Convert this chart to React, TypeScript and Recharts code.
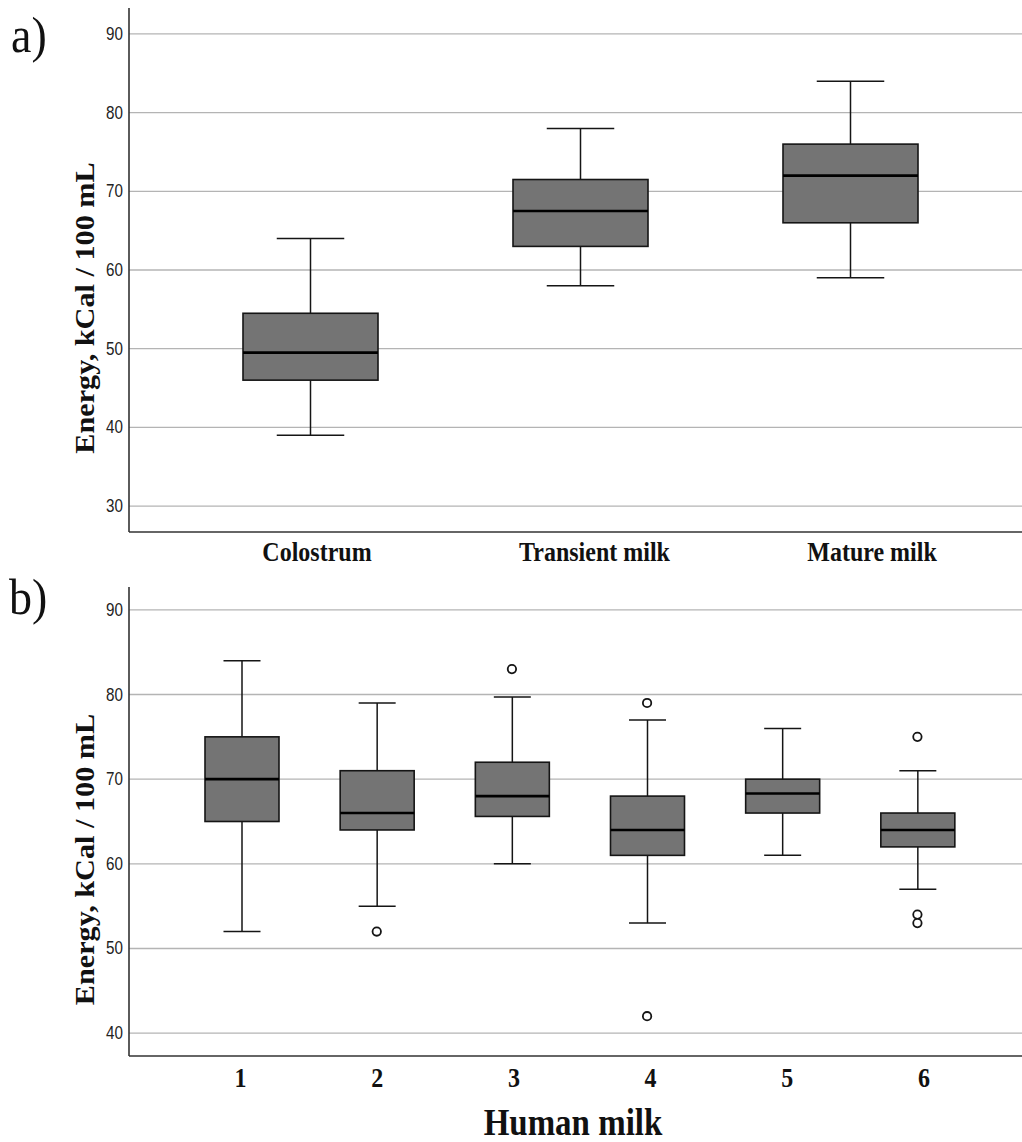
import React from "react";
import {
  Bar,
  CartesianGrid,
  ComposedChart,
  Scatter,
  XAxis,
  YAxis,
} from "recharts";

// panel a) lactation stage
const stageNames = ["Colostrum", "Transient milk", "Mature milk"];
const stageLow = [39, 58, 59];
const stageQ1 = [46, 63, 66];
const stageMedian = [49.5, 67.5, 72];
const stageQ3 = [54.5, 71.5, 76];
const stageHigh = [64, 78, 84];
const stageTicks = [30, 40, 50, 60, 70, 80, 90];

// panel b) individual donors
const donorNames = ["1", "2", "3", "4", "5", "6"];
const donorLow = [52, 55, 60, 53, 61, 57];
const donorQ1 = [65, 64, 65.6, 61, 66, 62];
const donorMedian = [70, 66, 68, 64, 68.3, 64];
const donorQ3 = [75, 71, 72, 68, 70, 66];
const donorHigh = [84, 79, 79.7, 77, 76, 71];
const donorOutliers = [[], [52], [83], [79, 42], [], [75, 54, 53]];
const donorTicks = [40, 50, 60, 70, 80, 90];

const yTitle = "Energy, kCal / 100 mL";
const xTitle = "Human milk";

type BoxRow = {
  name: string;
  low: number;
  q1: number;
  median: number;
  q3: number;
  high: number;
  out1?: number;
  out2?: number;
  out3?: number;
};

function buildRows(
  names: string[],
  low: number[],
  q1: number[],
  median: number[],
  q3: number[],
  high: number[],
  outliers?: number[][],
): BoxRow[] {
  return names.map((name, i) => {
    const row: BoxRow = {
      name,
      low: low[i],
      q1: q1[i],
      median: median[i],
      q3: q3[i],
      high: high[i],
    };
    const outs = outliers ? outliers[i] : [];
    if (outs[0] !== undefined) row.out1 = outs[0];
    if (outs[1] !== undefined) row.out2 = outs[1];
    if (outs[2] !== undefined) row.out3 = outs[2];
    return row;
  });
}

const stageRows = buildRows(stageNames, stageLow, stageQ1, stageMedian, stageQ3, stageHigh);
const donorRows = buildRows(
  donorNames,
  donorLow,
  donorQ1,
  donorMedian,
  donorQ3,
  donorHigh,
  donorOutliers,
);

const serif = "'Liberation Serif', 'Times New Roman', serif";
const sans = "'Liberation Sans', Arial, sans-serif";
const boxFill = "#747474";
const ink = "#151515";

// the bar spans low..high; inner values are placed on the same linear scale
function BoxShape(props: any) {
  const { x, y, width, height, payload } = props;
  if (!payload || !Number.isFinite(y)) return <g />;
  const top = Math.min(y, y + height);
  const bottom = Math.max(y, y + height);
  const span = payload.high - payload.low;
  const px = (v: number) => top + ((payload.high - v) / span) * (bottom - top);
  const cx = x + width / 2;
  const capHalf = width / 4;
  const yQ1 = px(payload.q1);
  const yQ3 = px(payload.q3);
  const yMed = px(payload.median);
  return (
    <g>
      <line x1={cx} x2={cx} y1={top} y2={yQ3} stroke={ink} strokeWidth={1.5} />
      <line x1={cx} x2={cx} y1={yQ1} y2={bottom} stroke={ink} strokeWidth={1.5} />
      <line x1={cx - capHalf} x2={cx + capHalf} y1={top} y2={top} stroke={ink} strokeWidth={1.5} />
      <line
        x1={cx - capHalf}
        x2={cx + capHalf}
        y1={bottom}
        y2={bottom}
        stroke={ink}
        strokeWidth={1.5}
      />
      <rect
        x={x}
        y={yQ3}
        width={width}
        height={yQ1 - yQ3}
        fill={boxFill}
        stroke={ink}
        strokeWidth={1.6}
      />
      <line x1={x} x2={x + width} y1={yMed} y2={yMed} stroke="#000" strokeWidth={2.6} />
    </g>
  );
}

function OutlierDot(props: any) {
  const { cx, cy } = props;
  if (!Number.isFinite(cx) || !Number.isFinite(cy)) return <g />;
  return <circle cx={cx} cy={cy} r={4.2} fill="#fff" stroke={ink} strokeWidth={1.8} />;
}

function YTick(props: any) {
  const { y, payload } = props;
  return (
    <text
      transform={`translate(123, ${y + 6}) scale(0.95, 1.2)`}
      textAnchor="end"
      fontFamily={sans}
      fontSize={16}
      fill="#222"
    >
      {payload.value}
    </text>
  );
}

// labels in the original sit a little to the right of the boxes, drifting per category
function makeXTick(offset: number, shift: number, drift: number) {
  return function XTick(props: any) {
    const { x, payload } = props;
    const dx = shift + drift * (payload.index ?? 0);
    return (
      <text
        transform={`translate(${x + dx}, ${offset}) scale(1, 1.15)`}
        textAnchor="middle"
        fontFamily={serif}
        fontWeight="bold"
        fontSize={24}
        fill="#111"
      >
        {payload.value}
      </text>
    );
  };
}

function makeYTitle(shift: number) {
  return function YTitle(props: any) {
    const vb = props.viewBox || { y: 0, height: 0 };
    const cy = vb.y + vb.height / 2 + shift;
    return (
      <text
        transform={`translate(94, ${cy}) rotate(-90) scale(1.12, 1)`}
        textAnchor="middle"
        fontFamily={serif}
        fontWeight="bold"
        fontSize={27}
        fill="#111"
      >
        {yTitle}
      </text>
    );
  };
}

function BoxChart(props: {
  rows: BoxRow[];
  height: number;
  top: number;
  axisHeight: number;
  domain: [number, number];
  ticks: number[];
  boxWidth: number;
  padding: { left: number; right: number };
  tickBaseline: number;
  labelShift: number;
  labelDrift: number;
  withOutliers?: boolean;
  withXTitle?: boolean;
}) {
  const plotBottom = props.height - props.axisHeight;
  return (
    <ComposedChart
      width={1022}
      height={props.height}
      data={props.rows}
      margin={{ top: props.top, right: 0, bottom: 0, left: 0 }}
    >
      <CartesianGrid
        vertical={false}
        syncWithTicks
        stroke="#b4b4b4"
        strokeWidth={1.3}
      />
      <XAxis
        dataKey="name"
        type="category"
        allowDuplicatedCategory={false}
        height={props.axisHeight}
        padding={props.padding}
        axisLine={{ stroke: "#333", strokeWidth: 1.6 }}
        tickLine={false}
        tick={makeXTick(plotBottom + props.tickBaseline, props.labelShift, props.labelDrift)}
        interval={0}
        label={
          props.withXTitle
            ? {
                content: () => (
                  <text
                    transform={`translate(573, ${props.height - 7}) scale(1, 1.12)`}
                    textAnchor="middle"
                    fontFamily={serif}
                    fontWeight="bold"
                    fontSize={33}
                    fill="#111"
                  >
                    {xTitle}
                  </text>
                ),
              }
            : undefined
        }
      />
      <YAxis
        width={129}
        type="number"
        domain={props.domain}
        ticks={props.ticks}
        allowDataOverflow
        axisLine={{ stroke: "#333", strokeWidth: 1.6 }}
        tickLine={false}
        tick={<YTick />}
        label={{ content: makeYTitle(38) }}
      />
      <Bar
        dataKey={(d: BoxRow) => [d.low, d.high]}
        barSize={props.boxWidth}
        shape={<BoxShape />}
        isAnimationActive={false}
      />
      {props.withOutliers &&
        ["out1", "out2", "out3"].map((key) => (
          <Scatter
            key={key}
            dataKey={key}
            shape={<OutlierDot />}
            isAnimationActive={false}
          />
        ))}
    </ComposedChart>
  );
}

export default function App() {
  return (
    <div
      style={{
        position: "absolute",
        left: 0,
        top: 0,
        width: 1022,
        height: 1142,
        background: "#fff",
      }}
    >
      <BoxChart
        rows={stageRows}
        height={575}
        top={8}
        axisHeight={43}
        domain={[26.7, 93.3]}
        ticks={stageTicks}
        boxWidth={135}
        padding={{ left: 46, right: 37 }}
        tickBaseline={29}
        labelShift={7}
        labelDrift={7.5}
      />
      <BoxChart
        rows={donorRows}
        height={567}
        top={12}
        axisHeight={86}
        domain={[37.3, 92.7]}
        ticks={donorTicks}
        boxWidth={74}
        padding={{ left: 45, right: 37 }}
        tickBaseline={31}
        labelShift={-1}
        labelDrift={1.5}
        withOutliers
        withXTitle
      />
      <svg
        width={1022}
        height={1142}
        style={{ position: "absolute", left: 0, top: 0, pointerEvents: "none" }}
      >
        <text
          transform="translate(11, 52) scale(1, 1.1)"
          fontFamily={serif}
          fontSize={46}
          fill="#111"
        >
          a)
        </text>
        <text
          transform="translate(9, 614) scale(1, 1.1)"
          fontFamily={serif}
          fontSize={46}
          fill="#111"
        >
          b)
        </text>
      </svg>
    </div>
  );
}
